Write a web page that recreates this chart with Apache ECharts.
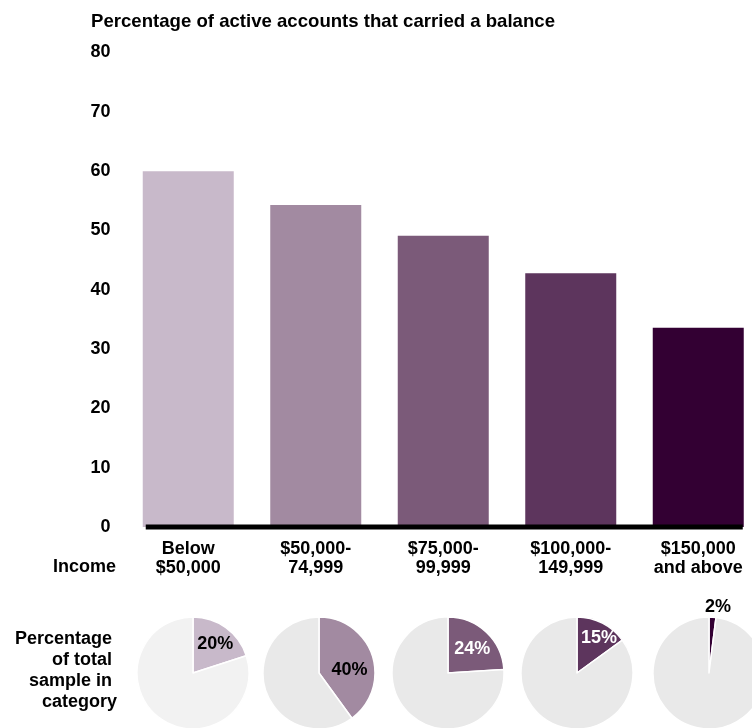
<!DOCTYPE html>
<html>
<head>
<meta charset="utf-8">
<title>Credit card balances by income</title>
<script src="https://cdn.jsdelivr.net/npm/echarts@6/dist/echarts.min.js"></script>
<style>
  html, body { margin: 0; padding: 0; background: #ffffff; }
  #chart { width: 752px; height: 728px; }
</style>
</head>
<body>
<div id="chart"></div>
<script>
// Income brackets (x-axis categories)
const incomeGroups = ['Below\n$50,000', '$50,000-\n74,999', '$75,000-\n99,999', '$100,000-\n149,999', '$150,000\nand above'];
// Share of active accounts carrying a balance, percent
const balanceShare = [60, 54.3, 49.1, 42.8, 33.6];
// Share of the total sample falling in each bracket, percent
const sampleShare = [20, 40, 24, 15, 2];
// Value-axis ticks
const yMin = 0, yMax = 80, yStep = 10;

const shades = ['#c8b9ca', '#a28aa1', '#7b5a79', '#5d355d', '#330033'];
const restGrey = ['#f2f2f2', '#e9e9e9', '#e9e9e9', '#e9e9e9', '#e9e9e9'];
const pieLabelColor = ['#000000', '#000000', '#ffffff', '#ffffff', '#000000'];
const pieLabelNudge = [[4, -4], [1, 7], [3, -1], [8, -7], [7, -35]];
const pieCenters = [[193, 673], [319, 673], [448, 673], [577, 673], [709, 673]];
const FONT = "'Liberation Sans', Arial, Helvetica, sans-serif";
const BAR_W = 91;

const chart = echarts.init(document.getElementById('chart'), null, { renderer: 'canvas' });

const pieSeries = sampleShare.map((v, i) => ({
  type: 'pie',
  center: pieCenters[i],
  radius: [0, 56],
  startAngle: 90,
  clockwise: true,
  silent: true,
  avoidLabelOverlap: false,
  itemStyle: { borderColor: '#ffffff', borderWidth: 1.5 },
  labelLine: { show: false },
  emphasis: { disabled: true },
  data: [
    {
      value: v,
      itemStyle: { color: shades[i] },
      label: {
        show: true,
        position: 'inside',
        formatter: v + '%',
        color: pieLabelColor[i],
        fontFamily: FONT,
        fontWeight: 'bold',
        fontSize: 18,
        offset: pieLabelNudge[i]
      }
    },
    {
      value: 100 - v,
      itemStyle: { color: restGrey[i] },
      label: { show: false }
    }
  ]
}));

const boldText = (text, x, y, lineHeight) => ({
  type: 'text',
  silent: true,
  style: {
    x: x, y: y,
    text: text,
    align: 'right',
    verticalAlign: 'top',
    fill: '#000000',
    font: 'bold 18px ' + FONT,
    lineHeight: lineHeight
  }
});

const option = {
  animation: false,
  backgroundColor: '#ffffff',
  textStyle: { fontFamily: FONT },
  title: {
    text: 'Percentage of active accounts that carried a balance',
    left: 86, top: 7,
    textStyle: { fontFamily: FONT, fontWeight: 'bold', fontSize: 18.6, lineHeight: 19, color: '#000000' }
  },
  grid: {
    left: 124.5, width: 637.5, top: 52.5, bottom: 201,
    containLabel: false,
    outerBoundsMode: 'none'
  },
  xAxis: {
    type: 'category',
    data: incomeGroups,
    axisLine: { show: false },
    axisTick: { show: false },
    axisLabel: {
      interval: 0,
      margin: 13,
      color: '#000000',
      fontFamily: FONT,
      fontWeight: 'bold',
      fontSize: 18,
      lineHeight: 19
    }
  },
  yAxis: {
    type: 'value',
    min: yMin, max: yMax, interval: yStep,
    axisLine: { show: false },
    axisTick: { show: false },
    splitLine: { show: false },
    axisLabel: {
      margin: 14,
      color: '#000000',
      fontFamily: FONT,
      fontWeight: 'bold',
      fontSize: 18
    }
  },
  series: [
    {
      type: 'bar',
      barWidth: BAR_W,
      silent: true,
      data: balanceShare.map((v, i) => ({ value: v, itemStyle: { color: shades[i] } }))
    },
    ...pieSeries
  ]
};

chart.setOption(option);

// Heavy baseline under the bars, spanning from the first to the last bar
const zeroY = chart.convertToPixel({ yAxisIndex: 0 }, 0);
const firstX = chart.convertToPixel({ xAxisIndex: 0 }, 0) - BAR_W / 2 + 3;
const lastX = chart.convertToPixel({ xAxisIndex: 0 }, incomeGroups.length - 1) + BAR_W / 2 - 1;
chart.setOption({
  graphic: [
    {
      type: 'line',
      silent: true,
      z: 10,
      shape: { x1: firstX, y1: zeroY, x2: lastX, y2: zeroY },
      style: { stroke: '#000000', lineWidth: 5 }
    },
    boldText('Income', 116, 558, 19),
    boldText('Percentage \nof total \nsample in \ncategory', 117, 628.5, 21)
  ]
});
</script>
</body>
</html>
